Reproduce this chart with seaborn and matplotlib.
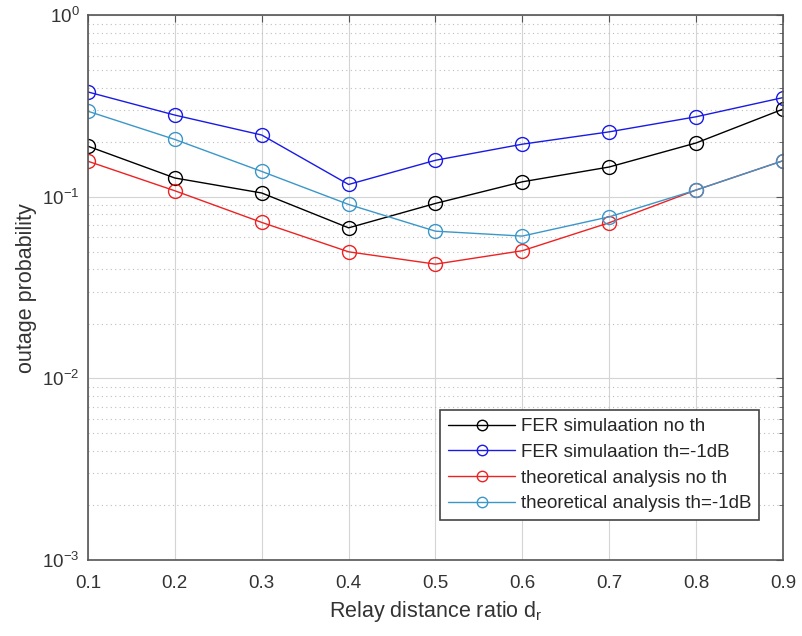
import matplotlib
matplotlib.use("Agg")
import matplotlib.pyplot as plt
import seaborn as sns
import numpy as np
from matplotlib.ticker import LogLocator, NullFormatter, FixedLocator

dr = [0.1, 0.2, 0.3, 0.4, 0.5, 0.6, 0.7, 0.8, 0.9]
fer_no_th = [0.190, 0.127, 0.105, 0.0675, 0.092, 0.121, 0.146, 0.198, 0.304]
fer_th = [0.378, 0.282, 0.219, 0.117, 0.159, 0.195, 0.228, 0.276, 0.352]
theo_no_th = [0.157, 0.108, 0.0723, 0.0498, 0.0426, 0.0505, 0.072, 0.109, 0.158]
theo_th = [0.296, 0.207, 0.138, 0.0908, 0.0647, 0.0608, 0.0776, 0.109, 0.158]

labels = ["FER simulaation no th", "FER simulaation th=-1dB",
          "theoretical analysis no th", "theoretical analysis th=-1dB"]
colors = ["#000000", "#1a1ae6", "#ee2222", "#3b97c9"]
series = [fer_no_th, fer_th, theo_no_th, theo_th]

sns.set_style("white")
plt.rcParams['font.family'] = ['Liberation Sans', 'DejaVu Sans']
plt.rcParams['mathtext.default'] = 'regular'

fig = plt.figure(figsize=(8.03, 6.36), dpi=100)
ax = fig.add_axes([0.1096, 0.1195, 0.8654, 0.8565])

for vals, lab, col in zip(series, labels, colors):
    sns.lineplot(x=dr, y=vals, ax=ax, color=col, marker="o", markersize=10,
                 mfc="none", mec=col, mew=1.0, linewidth=1.0, label=lab)

ax.set_yscale("log")
ax.set_xlim(0.1, 0.9)
ax.set_ylim(1e-3, 1)
ax.xaxis.set_major_locator(FixedLocator(dr))
ax.set_xticklabels([f"{v:.1f}" for v in dr])
ax.yaxis.set_major_locator(LogLocator(base=10, numticks=10))
ax.yaxis.set_minor_locator(LogLocator(base=10, subs=np.arange(2, 10), numticks=20))
ax.yaxis.set_minor_formatter(NullFormatter())

ax.grid(True, which="major", color="#d4d4d4", linestyle="-", linewidth=0.8)
ax.grid(True, which="minor", axis="y", color="#bdbdbd", linestyle=(0, (1, 3)), linewidth=0.8)
ax.set_axisbelow(True)

for s in ax.spines.values():
    s.set_color("#555555")
    s.set_linewidth(1.2)
ax.tick_params(which="both", direction="in", top=True, right=True, colors="#555555",
               labelcolor="#333333", labelsize=13.5)
ax.tick_params(which="major", length=5)
ax.tick_params(which="minor", length=3)
ax.tick_params(axis="x", which="major", pad=11)
ax.tick_params(axis="y", which="major", pad=6)

ax.set_xlabel("Relay distance ratio d$_r$", fontsize=15.5, color="#333333", labelpad=5)
ax.set_ylabel("outage probability", fontsize=15.5, color="#333333", labelpad=4)

leg = ax.legend(loc="lower right", bbox_to_anchor=(0.966, 0.073), borderaxespad=0,
                fontsize=13.5, frameon=True, fancybox=False, framealpha=1,
                edgecolor="#444444", handlelength=3.6, labelspacing=0.46,
                borderpad=0.42, handletextpad=0.3, markerscale=0.75)
leg.get_frame().set_linewidth(1.2)

fig.savefig("out.png", dpi=100)
